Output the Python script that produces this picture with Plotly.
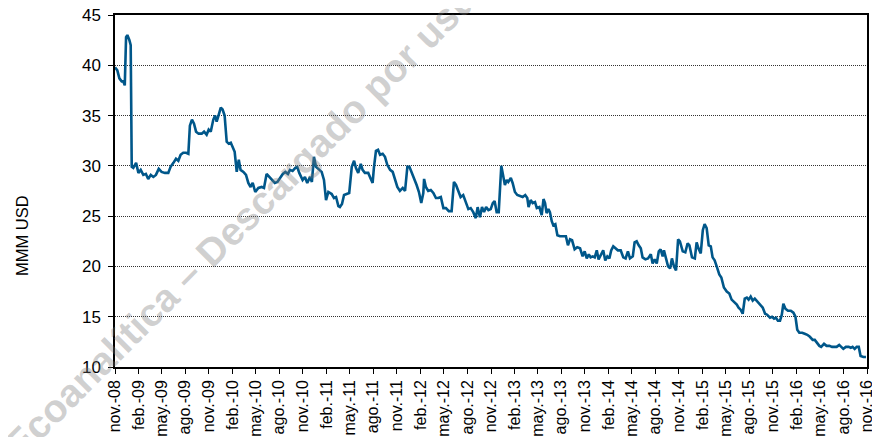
import pandas as pd
import plotly.graph_objects as go

# Reserves (MMM USD). x = days since 2008-11-01
start_date = "2008-11-01"
days = [0, 9, 17, 26, 32, 38, 43, 48, 56, 61, 65, 71, 82, 91, 100, 110, 120, 129, 139, 149,
        159, 170, 181, 194, 207, 216, 227, 237, 246, 255, 265, 276, 285, 291, 299, 307, 315, 325, 337, 346,
        356, 364, 372, 382, 389, 395, 401, 411, 418, 426, 434, 442, 450, 457, 465, 473, 481, 488, 499, 509,
        518, 527, 535, 545, 557, 570, 579, 589, 600, 610, 621, 631, 641, 652, 662, 672, 680, 690, 701, 708,
        716, 729, 738, 747, 758, 765, 773, 781, 790, 803, 812, 820, 829, 842, 851, 859, 868, 874, 882, 890,
        900, 910, 920, 929, 936, 945, 955, 962, 971, 984, 994, 1001, 1006, 1014, 1022, 1030, 1040, 1049, 1058, 1069,
        1079, 1088, 1097, 1107, 1118, 1127, 1136, 1144, 1153, 1162, 1172, 1181, 1190, 1198, 1201, 1208, 1217, 1227, 1237, 1247,
        1256, 1266, 1276, 1286, 1297, 1308, 1317, 1325, 1334, 1343, 1353, 1363, 1373, 1382, 1392, 1402, 1409, 1418, 1426, 1434,
        1442, 1451, 1460, 1468, 1475, 1483, 1491, 1501, 1506, 1515, 1522, 1528, 1538, 1545, 1554, 1563, 1574, 1584, 1594, 1602,
        1607, 1615, 1623, 1632, 1639, 1649, 1658, 1665, 1671, 1677, 1684, 1690, 1697, 1703, 1711, 1719, 1729, 1742, 1752, 1760,
        1768, 1776, 1786, 1796, 1807, 1817, 1825, 1833, 1841, 1848, 1856, 1864, 1872, 1879, 1888, 1897, 1905, 1913, 1921, 1928,
        1936, 1944, 1954, 1965, 1975, 1984, 1993, 2001, 2012, 2019, 2027, 2035, 2043, 2050, 2061, 2071, 2082, 2089, 2097, 2105,
        2113, 2120, 2128, 2133, 2141, 2149, 2157, 2164, 2172, 2180, 2188, 2195, 2206, 2216, 2225, 2232, 2242, 2253, 2260, 2267,
        2276, 2284, 2291, 2299, 2307, 2315, 2322, 2330, 2338, 2348, 2356, 2366, 2377, 2387, 2396, 2405, 2416, 2423, 2431, 2439,
        2447, 2455, 2462, 2470, 2478, 2486, 2496, 2506, 2517, 2526, 2534, 2545, 2553, 2561, 2568, 2576, 2584, 2591, 2597, 2605,
        2615, 2626, 2636, 2644, 2651, 2659, 2670, 2680, 2690, 2700, 2711, 2719, 2727, 2737, 2744, 2755, 2765, 2776, 2786, 2796,
        2804, 2814, 2822, 2830, 2840, 2851, 2859, 2866, 2874, 2882, 2890, 2897, 2908, 2918]
reserves = [39.8, 39.5, 38.7, 38.4, 38.4, 38.0, 42.8, 43.0, 42.5, 42.0, 29.9, 29.8, 30.3, 29.3, 29.6, 29.1, 29.2, 28.7, 29.1, 28.9,
            29.1, 29.7, 29.4, 29.3, 29.3, 29.9, 30.3, 30.7, 30.5, 31.1, 31.3, 31.3, 31.2, 34.0, 34.6, 34.2, 33.4, 33.2, 33.2, 33.4,
            33.1, 33.6, 33.4, 34.6, 35.0, 34.4, 34.9, 35.8, 35.6, 35.0, 32.4, 32.2, 32.3, 31.9, 31.4, 29.4, 30.6, 29.6, 29.4, 29.1,
            28.3, 27.9, 28.3, 27.4, 27.8, 27.9, 27.8, 29.2, 28.9, 28.7, 28.3, 28.4, 28.8, 29.2, 29.4, 29.2, 29.6, 29.5, 29.8, 29.9,
            29.3, 28.6, 28.9, 28.3, 28.9, 28.4, 30.9, 29.9, 29.7, 29.4, 28.6, 26.6, 27.4, 27.2, 26.8, 26.9, 26.0, 25.9, 26.2, 27.1,
            27.2, 27.3, 29.9, 30.5, 29.8, 29.3, 30.2, 29.6, 29.3, 29.3, 28.7, 28.3, 29.8, 31.5, 31.6, 31.1, 31.2, 30.9, 30.1, 29.6,
            29.4, 28.6, 27.9, 27.5, 27.8, 27.5, 29.9, 29.9, 29.3, 28.9, 28.1, 27.4, 26.3, 27.3, 28.7, 27.9, 27.5, 27.6, 27.3, 26.8,
            26.8, 26.9, 25.8, 25.8, 25.5, 25.5, 28.4, 28.1, 27.4, 26.9, 27.1, 26.4, 25.7, 25.8, 25.4, 24.8, 25.9, 24.9, 25.9, 25.4,
            25.9, 25.6, 25.7, 26.3, 26.5, 25.4, 25.4, 30.0, 29.3, 28.1, 28.6, 28.4, 28.8, 28.3, 27.4, 27.1, 27.0, 26.9, 27.1, 26.8,
            25.9, 26.6, 26.3, 26.4, 25.8, 25.9, 25.1, 26.7, 26.3, 25.3, 25.7, 25.4, 24.5, 24.1, 24.2, 23.1, 23.0, 23.0, 23.0, 22.1,
            22.7, 22.6, 21.7, 21.9, 21.8, 21.0, 21.5, 20.8, 21.2, 20.9, 21.0, 20.9, 21.6, 20.7, 21.1, 21.6, 20.6, 21.0, 20.8, 21.6,
            22.0, 21.8, 21.6, 21.6, 20.9, 20.8, 21.5, 20.8, 21.0, 22.4, 22.5, 22.1, 21.8, 20.9, 20.7, 20.8, 21.2, 20.3, 20.7, 20.3,
            21.5, 21.7, 21.0, 21.6, 20.8, 20.0, 19.8, 20.8, 20.0, 19.6, 22.7, 22.5, 21.5, 21.4, 22.3, 22.1, 20.9, 20.8, 22.4, 21.8,
            21.3, 23.6, 24.2, 23.8, 22.1, 22.0, 20.9, 20.6, 20.0, 19.2, 18.9, 17.9, 17.5, 17.3, 16.7, 16.5, 16.2, 15.9, 15.7, 15.3,
            16.8, 16.9, 16.7, 17.0, 16.6, 16.8, 16.5, 16.3, 15.9, 15.3, 15.2, 14.9, 15.0, 14.8, 14.9, 14.6, 14.6, 15.2, 16.3, 15.8,
            15.6, 15.6, 15.4, 15.0, 13.7, 13.4, 13.4, 13.3, 13.2, 13.0, 12.7, 12.7, 12.4, 12.1, 12.0, 12.3, 12.1, 12.1, 12.0, 12.0,
            12.0, 12.2, 12.0, 11.8, 12.0, 12.0, 11.9, 12.0, 11.8, 12.0, 12.0, 11.1, 11.0, 11.0]

tick_dates = pd.date_range("2008-11-01", "2016-11-01", freq="3MS")
month_names = {2: "feb.", 5: "may.", 8: "ago.", 11: "nov."}
tick_labels = [f"{month_names[d.month]}-{d.strftime('%y')}" for d in tick_dates]

y_ticks = [10, 15, 20, 25, 30, 35, 40, 45]
y_title = "MMM USD"
watermark = "Ecoanalítica – Descargado por usuario"

dates = pd.to_datetime(start_date) + pd.to_timedelta(days, unit="D")

fig = go.Figure()
fig.add_trace(go.Scatter(x=dates, y=reserves, mode="lines",
                         line=dict(color="#00578A", width=2.6),
                         showlegend=False, hoverinfo="skip"))

# page body has an 8px margin, so the figure is 8px smaller than the window
fig.update_layout(
    width=872, height=429,
    margin=dict(l=107, r=13, t=7, b=70, autoexpand=False),
    paper_bgcolor="white", plot_bgcolor="white",
    font=dict(family="Liberation Sans, Arial", color="black", size=17),
    annotations=[
        dict(text=watermark, xref="paper", yref="paper", x=0.2008, y=0.483,
             xanchor="center", yanchor="middle", textangle=-45, showarrow=False,
             font=dict(size=39, color="rgba(120,120,120,0.35)", family="Liberation Sans, Arial",
                       weight="bold")),
        dict(text=y_title, xref="paper", yref="paper", x=-0.1237, y=0.375,
             xanchor="center", yanchor="middle", textangle=-90, showarrow=False,
             font=dict(size=16.5, color="black", family="Liberation Sans, Arial")),
    ],
)

fig.update_xaxes(
    range=[tick_dates[0], tick_dates[-1]], automargin=False,
    tickmode="array", tickvals=tick_dates, ticktext=tick_labels,
    tickangle=-90, ticks="outside", ticklen=5, tickcolor="black",
    ticklabeloverflow="allow",
    showline=True, linecolor="black", linewidth=1.5, mirror=True,
    showgrid=False, tickfont=dict(size=16), zeroline=False,
)
fig.update_yaxes(
    range=[10, 45], automargin=False, tickmode="array", tickvals=y_ticks,
    ticks="outside", ticklen=5, tickcolor="black", ticklabelstandoff=4,
    ticklabeloverflow="allow",
    showline=True, linecolor="black", linewidth=1.5, mirror=True,
    showgrid=True, gridcolor="#333333", griddash="1px,1px", gridwidth=1,
    tickfont=dict(size=17), zeroline=False,
)

fig.write_html("out.html")
